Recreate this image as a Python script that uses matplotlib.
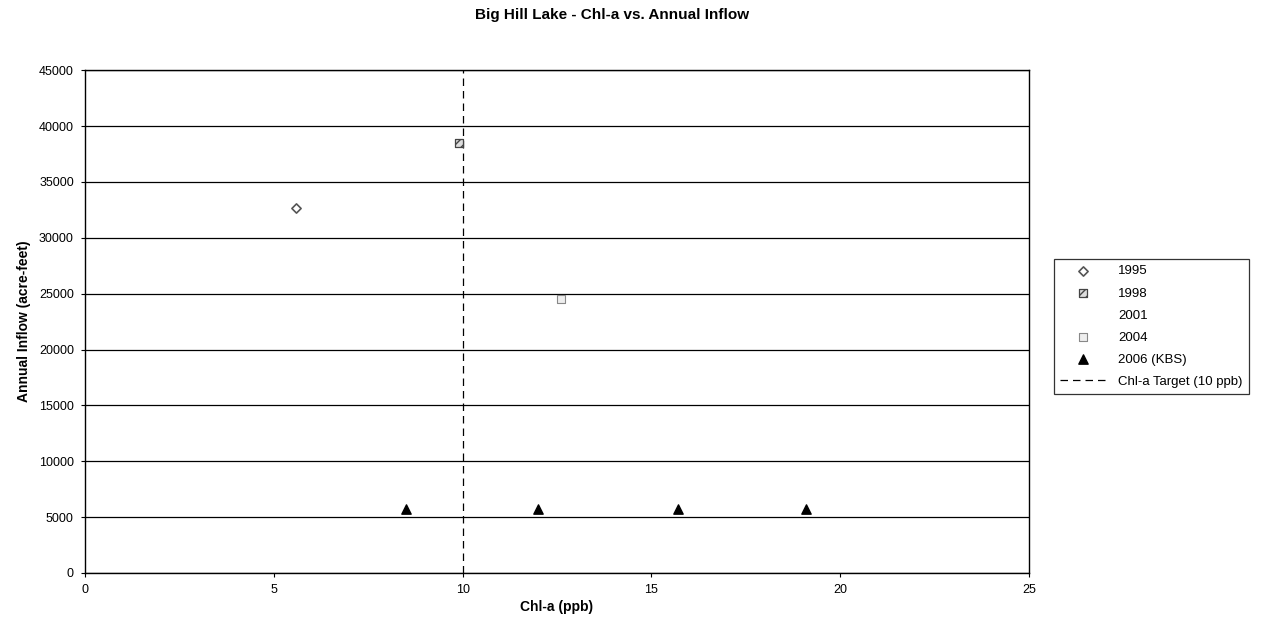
import matplotlib
matplotlib.use('Agg')
import matplotlib.pyplot as plt

plt.rcParams['font.family'] = ['Liberation Sans', 'DejaVu Sans']

# data
chl_1995 = [5.6]
flow_1995 = [32650]
chl_1998 = [9.9]
flow_1998 = [38500]
chl_2001 = []
flow_2001 = []
chl_2004 = [12.6]
flow_2004 = [24500]
chl_2006 = [8.5, 12.0, 15.7, 19.1]
flow_2006 = [5700, 5700, 5700, 5700]
target = 10

fig = plt.figure(figsize=(12.61, 6.38), dpi=100)
ax = fig.add_axes([0.0674, 0.1019, 0.7486, 0.7881])

ax.scatter(chl_1995, flow_1995, marker='D', s=22, facecolors='white',
           edgecolors='#555555', linewidths=1.2, label='1995', zorder=3)
ax.scatter(chl_1998, flow_1998, marker='s', s=30, facecolors='#dddddd',
           edgecolors='#444444', linewidths=0.9, hatch='////', label='1998', zorder=3)
ax.scatter(chl_2001, flow_2001, marker='o', s=20, facecolors='none',
           edgecolors='none', label='2001', zorder=3)
ax.scatter(chl_2004, flow_2004, marker='s', s=30, facecolors='#eeeeee',
           edgecolors='#888888', linewidths=0.8, label='2004', zorder=3)
ax.scatter(chl_2006, flow_2006, marker='^', s=45, color='black',
           label='2006 (KBS)', zorder=3)
ax.axvline(target, color='black', linestyle=(0, (6, 4)), linewidth=0.9,
           label='Chl-a Target (10 ppb)', zorder=2)

ax.set_xlim(0, 25)
ax.set_ylim(0, 45000)
ax.set_xticks(range(0, 26, 5))
ax.set_yticks(range(0, 45001, 5000))
ax.yaxis.grid(True, color='black', linewidth=0.9)
ax.set_axisbelow(True)
for s in ax.spines.values():
    s.set_color('black')
    s.set_linewidth(1.0)
ax.tick_params(labelsize=9, length=3, direction='out', color='black', pad=5)

ax.set_xlabel('Chl-a (ppb)', fontsize=10, fontweight='bold', labelpad=3)
ax.set_ylabel('Annual Inflow (acre-feet)', fontsize=10, fontweight='bold', labelpad=6)
fig.text(0.485, 0.988, 'Big Hill Lake - Chl-a vs. Annual Inflow', ha='center',
         va='top', fontsize=11, fontweight='bold')

leg = ax.legend(loc='center left', bbox_to_anchor=(1.02, 0.49), fontsize=9.5,
                frameon=True, fancybox=False, edgecolor='black', borderpad=0.45,
                handlelength=3.4, handletextpad=1.0, labelspacing=0.75)
leg.get_frame().set_linewidth(0.9)

fig.savefig('out.png', dpi=100)
